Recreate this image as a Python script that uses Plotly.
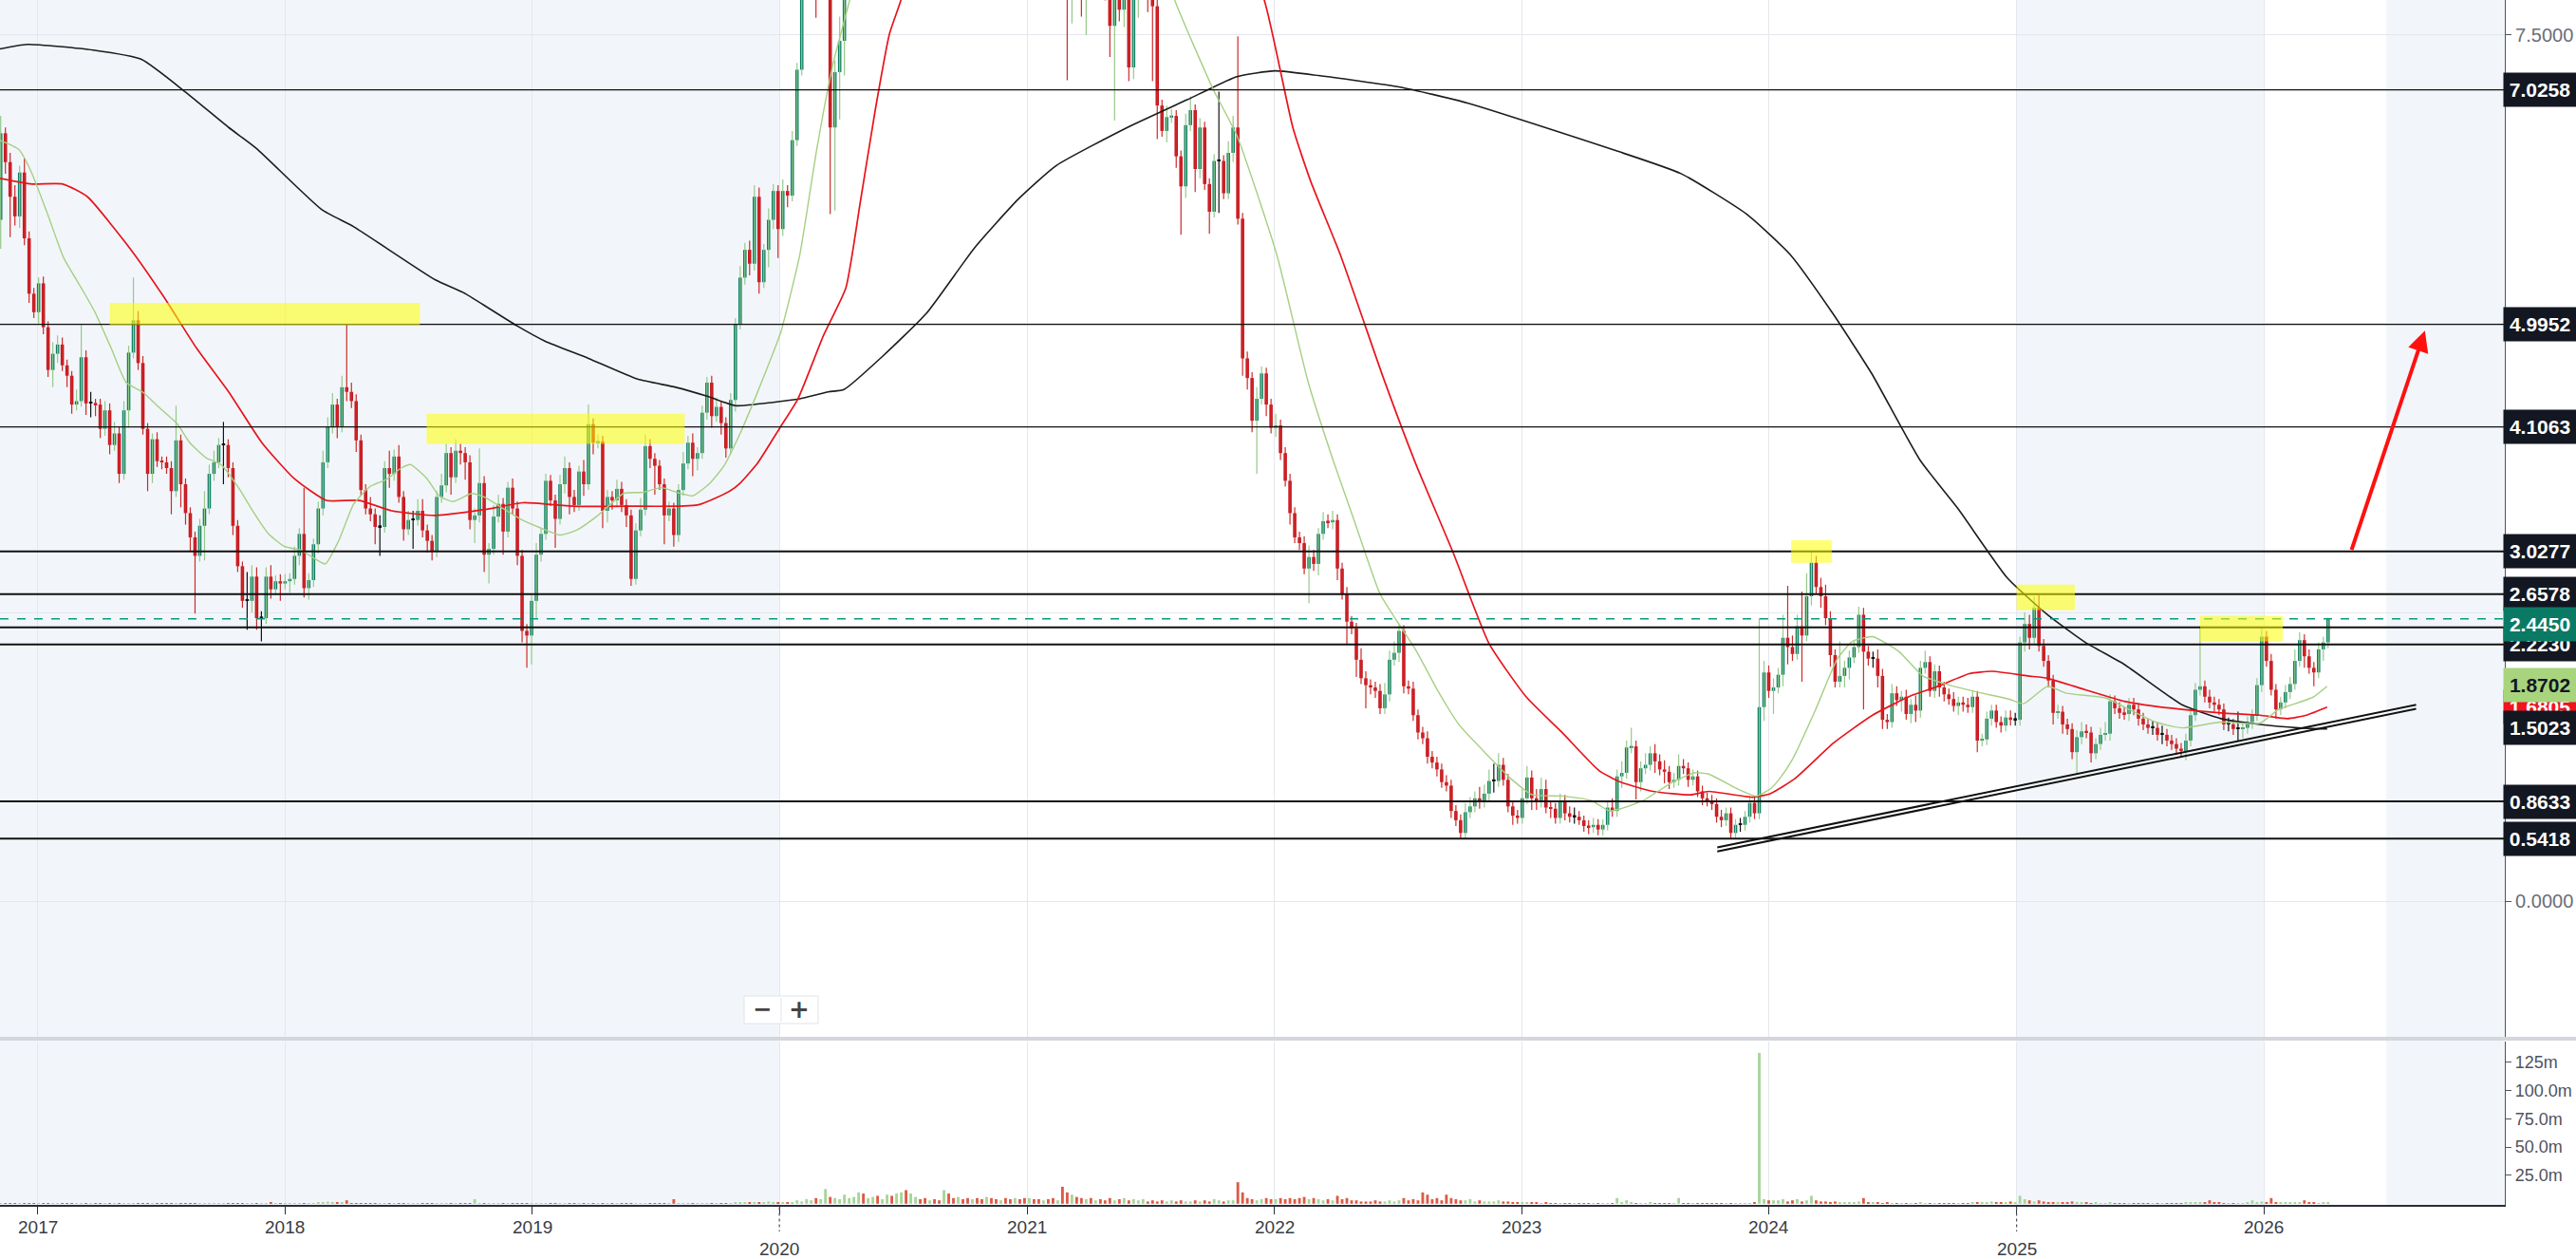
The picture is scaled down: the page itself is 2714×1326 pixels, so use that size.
import numpy as np
import pandas as pd
import plotly.graph_objects as go

# ---------------- data (weekly candles) ----------------
START = "2016-11-07"
first_open = 5.90

close = [
    6.65, 6.40, 6.10, 5.93, 6.31, 5.74, 5.26, 5.10, 5.35, 4.97,
    4.60, 4.74, 4.82, 4.64, 4.55, 4.30, 4.33, 4.71, 4.31, 4.31,
    4.30, 4.09, 4.25, 3.95, 4.05, 3.70, 4.25, 4.75, 5.03, 4.66,
    4.09, 3.70, 4.00, 3.81, 3.80, 3.75, 3.55, 3.99, 3.61, 3.36,
    3.15, 2.99, 3.25, 3.40, 3.70, 3.80, 3.95, 3.95, 3.75, 3.25,
    2.90, 2.60, 2.60, 2.81, 2.45, 2.45, 2.81, 2.70, 2.77, 2.75,
    2.77, 2.79, 2.99, 3.18, 2.71, 2.78, 3.09, 3.40, 3.80, 4.11,
    4.30, 4.11, 4.45, 4.41, 4.33, 3.99, 3.56, 3.40, 3.35, 3.24,
    3.24, 3.75, 3.70, 3.85, 3.50, 3.22, 3.30, 3.30, 3.38, 3.21,
    3.12, 3.03, 3.50, 3.60, 3.88, 3.67, 3.90, 3.88, 3.80, 3.30,
    3.34, 3.62, 3.00, 3.05, 3.33, 3.44, 3.20, 3.58, 3.40, 2.99,
    2.34, 2.30, 2.60, 3.00, 3.18, 3.64, 3.47, 3.31, 3.61, 3.75,
    3.50, 3.43, 3.72, 3.61, 4.13, 3.97, 3.98, 3.38, 3.50, 3.47,
    3.57, 3.43, 3.34, 2.79, 3.21, 3.39, 3.94, 3.83, 3.77, 3.61,
    3.34, 3.40, 3.17, 3.56, 3.79, 3.97, 3.83, 3.88, 4.23, 4.49,
    4.20, 4.28, 4.14, 3.92, 4.34, 5.00, 5.40, 5.64, 5.52, 6.10,
    5.36, 5.64, 5.90, 6.15, 5.82, 6.15, 6.11, 6.59, 7.20, 8.20,
    8.80, 9.40, 8.60, 9.20, 9.80, 6.70, 7.18, 7.45, 8.60, 9.10,
    9.50, 10.2, 9.80, 10.5, 11.2, 10.8, 11.5, 12.3, 11.8, 12.6,
    13.4, 12.9, 13.8, 14.5, 13.6, 12.8, 13.5, 12.4, 11.6, 12.2,
    11.3, 10.6, 11.4, 10.9, 10.2, 10.8, 10.1, 9.60, 10.3, 9.80,
    9.30, 9.90, 9.50, 9.00, 9.60, 9.20, 8.80, 9.30, 8.90, 8.60,
    9.10, 8.70, 8.50, 8.90, 8.60, 8.30, 8.50, 8.40, 8.20, 8.60,
    8.30, 8.60, 8.40, 8.10, 7.58, 7.90, 7.72, 7.95, 7.22, 7.85,
    8.10, 8.30, 8.00, 7.75, 6.89, 6.67, 6.79, 6.80, 6.45, 6.19,
    6.72, 6.85, 6.34, 6.70, 6.21, 5.97, 6.41, 6.41, 6.13, 6.48,
    6.70, 5.91, 4.70, 4.53, 4.16, 4.35, 4.57, 4.30, 4.10, 4.12,
    3.88, 3.64, 3.36, 3.15, 3.10, 2.88, 2.98, 2.92, 3.18, 3.29,
    3.28, 3.30, 2.88, 2.66, 2.42, 2.36, 2.09, 1.93, 1.87, 1.85,
    1.82, 1.67, 1.79, 2.09, 2.15, 2.34, 1.86, 1.84, 1.61, 1.46,
    1.41, 1.25, 1.20, 1.14, 1.03, 1.00, 0.78, 0.70, 0.59, 0.77,
    0.82, 0.89, 0.86, 0.93, 1.04, 1.04, 1.18, 1.05, 0.82, 0.74,
    0.72, 0.89, 1.07, 0.89, 0.87, 0.97, 0.81, 0.80, 0.72, 0.87,
    0.76, 0.73, 0.73, 0.70, 0.65, 0.64, 0.66, 0.62, 0.66, 0.81,
    0.78, 1.08, 1.11, 1.33, 1.34, 1.03, 1.15, 1.18, 1.28, 1.21,
    1.14, 1.12, 1.03, 1.05, 1.17, 1.15, 1.05, 1.08, 0.95, 0.89,
    0.87, 0.84, 0.73, 0.70, 0.76, 0.59, 0.66, 0.66, 0.73, 0.85,
    0.76, 1.68, 1.98, 1.82, 1.85, 1.96, 2.28, 2.20, 2.14, 2.38,
    2.30, 2.64, 2.93, 2.72, 2.64, 2.45, 2.13, 1.90, 1.95, 2.02,
    2.11, 2.20, 2.48, 2.16, 2.10, 2.10, 1.95, 1.57, 1.55, 1.80,
    1.74, 1.77, 1.62, 1.70, 1.65, 2.02, 2.07, 1.82, 1.99, 1.85,
    1.79, 1.75, 1.69, 1.72, 1.70, 1.68, 1.77, 1.39, 1.40, 1.58,
    1.65, 1.55, 1.52, 1.59, 1.57, 1.57, 2.24, 2.40, 2.28, 2.54,
    2.21, 2.08, 1.91, 1.63, 1.64, 1.53, 1.49, 1.29, 1.42, 1.47,
    1.46, 1.28, 1.36, 1.44, 1.45, 1.73, 1.67, 1.63, 1.62, 1.70,
    1.66, 1.58, 1.53, 1.50, 1.50, 1.44, 1.44, 1.39, 1.36, 1.32,
    1.30, 1.39, 1.61, 1.83, 1.86, 1.77, 1.72, 1.70, 1.66, 1.53,
    1.53, 1.49, 1.49, 1.50, 1.55, 1.61, 1.87, 2.29, 2.08, 1.83,
    1.66, 1.72, 1.81, 1.88, 2.08, 2.26, 2.12, 2.02, 1.98, 2.18,
    2.24, 2.445,
]

wick_up = [
    0.15, 0.05, 0.08, 0.10, 0.06, 0.12, 0.06, 0.05, 0.05, 0.06,
    0.05, 0.10, 0.08, 0.06, 0.05, 0.04, 0.10, 0.28, 0.06, 0.10,
    0.04, 0.05, 0.08, 0.06, 0.10, 0.06, 0.08, 0.06, 0.37, 0.08,
    0.06, 0.05, 0.05, 0.06, 0.04, 0.05, 0.06, 0.30, 0.05, 0.05,
    0.05, 0.05, 0.06, 0.15, 0.08, 0.10, 0.06, 0.20, 0.05, 0.05,
    0.05, 0.04, 0.25, 0.10, 0.08, 0.06, 0.08, 0.10, 0.05, 0.06,
    0.06, 0.05, 0.08, 0.05, 0.40, 0.06, 0.05, 0.06, 0.10, 0.08,
    0.10, 0.05, 0.10, 0.54, 0.08, 0.06, 0.05, 0.05, 0.10, 0.05,
    0.10, 0.06, 0.15, 0.06, 0.10, 0.05, 0.08, 0.08, 0.10, 0.10,
    0.05, 0.05, 0.05, 0.10, 0.08, 0.05, 0.10, 0.06, 0.05, 0.06,
    0.06, 0.30, 0.06, 0.05, 0.10, 0.08, 0.05, 0.05, 0.08, 0.06,
    0.05, 0.06, 0.05, 0.10, 0.05, 0.06, 0.05, 0.05, 0.08, 0.10,
    0.05, 0.06, 0.05, 0.10, 0.17, 0.05, 0.06, 0.05, 0.06, 0.05,
    0.08, 0.06, 0.05, 0.05, 0.06, 0.10, 0.10, 0.06, 0.05, 0.05,
    0.05, 0.06, 0.05, 0.05, 0.10, 0.06, 0.08, 0.05, 0.06, 0.05,
    0.06, 0.08, 0.05, 0.05, 0.06, 0.05, 0.10, 0.06, 0.08, 0.10,
    0.08, 0.05, 0.10, 0.06, 0.05, 0.10, 0.05, 0.08, 0.06, 0.10,
    0.30, 0.30, 0.30, 0.30, 0.30, 0.10, 0.10, 0.21, 0.30, 0.30,
    0.30, 0.30, 0.30, 0.30, 0.30, 0.30, 0.30, 0.30, 0.30, 0.30,
    0.30, 0.30, 0.30, 0.30, 0.30, 0.30, 0.30, 0.30, 0.30, 0.30,
    0.30, 0.30, 0.30, 0.30, 0.30, 0.30, 0.30, 0.30, 0.30, 0.30,
    0.30, 0.30, 0.30, 0.30, 0.30, 0.30, 0.30, 0.30, 0.30, 0.30,
    0.30, 0.30, 0.30, 0.30, 0.30, 0.30, 0.30, 0.30, 0.30, 0.30,
    0.30, 0.30, 0.30, 0.30, 0.30, 0.30, 0.30, 0.20, 0.30, 0.30,
    0.30, 0.30, 0.30, 0.30, 0.06, 0.05, 0.10, 0.06, 0.05, 0.05,
    0.10, 0.12, 0.05, 0.08, 0.05, 0.05, 0.06, 0.60, 0.05, 0.10,
    0.10, 0.79, 0.05, 0.06, 0.05, 0.10, 0.06, 0.05, 0.05, 0.10,
    0.05, 0.05, 0.06, 0.05, 0.05, 0.06, 0.10, 0.06, 0.05, 0.08,
    0.06, 0.08, 0.05, 0.05, 0.06, 0.05, 0.05, 0.10, 0.06, 0.05,
    0.05, 0.06, 0.10, 0.08, 0.10, 0.05, 0.05, 0.05, 0.06, 0.05,
    0.05, 0.06, 0.05, 0.05, 0.05, 0.06, 0.05, 0.05, 0.05, 0.08,
    0.08, 0.06, 0.10, 0.08, 0.10, 0.15, 0.10, 0.06, 0.05, 0.05,
    0.05, 0.08, 0.10, 0.06, 0.08, 0.10, 0.08, 0.05, 0.05, 0.06,
    0.05, 0.06, 0.08, 0.05, 0.04, 0.05, 0.06, 0.05, 0.05, 0.06,
    0.08, 0.06, 0.10, 0.06, 0.16, 0.05, 0.06, 0.10, 0.06, 0.08,
    0.06, 0.08, 0.05, 0.06, 0.10, 0.06, 0.05, 0.06, 0.05, 0.05,
    0.05, 0.05, 0.05, 0.06, 0.05, 0.05, 0.05, 0.06, 0.05, 0.06,
    0.05, 0.77, 0.10, 0.06, 0.08, 0.06, 0.20, 0.45, 0.10, 0.10,
    0.30, 0.20, 0.10, 0.06, 0.08, 0.10, 0.06, 0.05, 0.30, 0.06,
    0.06, 0.05, 0.07, 0.06, 0.05, 0.06, 0.08, 0.06, 0.05, 0.08,
    0.06, 0.05, 0.06, 0.05, 0.08, 0.06, 0.10, 0.05, 0.06, 0.05,
    0.05, 0.05, 0.06, 0.05, 0.05, 0.06, 0.05, 0.05, 0.05, 0.06,
    0.05, 0.05, 0.05, 0.06, 0.06, 0.06, 0.05, 0.10, 0.08, 0.10,
    0.11, 0.06, 0.05, 0.05, 0.06, 0.05, 0.05, 0.05, 0.06, 0.08,
    0.06, 0.05, 0.05, 0.06, 0.10, 0.06, 0.05, 0.05, 0.05, 0.06,
    0.06, 0.05, 0.05, 0.05, 0.06, 0.05, 0.08, 0.05, 0.05, 0.05,
    0.05, 0.06, 0.05, 0.06, 0.52, 0.05, 0.06, 0.05, 0.05, 0.05,
    0.06, 0.05, 0.15, 0.05, 0.05, 0.05, 0.06, 0.07, 0.05, 0.06,
    0.05, 0.05, 0.06, 0.06, 0.10, 0.07, 0.05, 0.06, 0.05, 0.06,
    0.05, 0.01,
]

wick_dn = [
    0.25, 0.10, 0.35, 0.08, 0.10, 0.06, 0.08, 0.05, 0.10, 0.06,
    0.06, 0.15, 0.08, 0.05, 0.10, 0.08, 0.05, 0.05, 0.10, 0.12,
    0.10, 0.08, 0.06, 0.08, 0.05, 0.08, 0.05, 0.15, 0.05, 0.06,
    0.05, 0.15, 0.08, 0.05, 0.06, 0.05, 0.20, 0.05, 0.20, 0.10,
    0.12, 0.50, 0.05, 0.30, 0.05, 0.06, 0.05, 0.34, 0.08, 0.08,
    0.05, 0.06, 0.25, 0.10, 0.10, 0.20, 0.05, 0.08, 0.05, 0.15,
    0.05, 0.10, 0.05, 0.08, 0.08, 0.10, 0.06, 0.08, 0.06, 0.05,
    0.06, 0.10, 0.05, 0.08, 0.06, 0.10, 0.05, 0.05, 0.06, 0.15,
    0.25, 0.05, 0.12, 0.06, 0.05, 0.10, 0.05, 0.25, 0.05, 0.06,
    0.10, 0.08, 0.05, 0.05, 0.06, 0.15, 0.05, 0.10, 0.15, 0.08,
    0.20, 0.06, 0.15, 0.25, 0.05, 0.05, 0.20, 0.05, 0.05, 0.08,
    0.10, 0.28, 0.25, 0.15, 0.06, 0.05, 0.05, 0.25, 0.05, 0.08,
    0.15, 0.06, 0.05, 0.10, 0.05, 0.10, 0.05, 0.15, 0.10, 0.08,
    0.06, 0.06, 0.10, 0.06, 0.05, 0.05, 0.05, 0.08, 0.25, 0.05,
    0.25, 0.05, 0.10, 0.06, 0.05, 0.05, 0.15, 0.10, 0.05, 0.06,
    0.10, 0.05, 0.10, 0.08, 0.05, 0.10, 0.05, 0.06, 0.10, 0.06,
    0.10, 0.05, 0.15, 0.08, 0.25, 0.06, 0.10, 0.05, 0.05, 0.05,
    0.30, 0.30, 0.95, 0.30, 0.30, 0.75, 0.72, 0.41, 0.30, 0.30,
    0.30, 0.30, 0.30, 0.30, 0.30, 0.30, 0.30, 0.30, 0.30, 0.30,
    0.30, 0.30, 0.30, 0.30, 0.30, 0.30, 0.30, 0.30, 0.30, 0.30,
    0.30, 0.30, 0.30, 0.30, 0.30, 0.30, 0.30, 0.30, 0.30, 0.30,
    0.30, 0.30, 0.30, 0.30, 0.30, 0.30, 0.30, 0.30, 0.30, 0.30,
    0.30, 0.30, 0.30, 0.30, 0.30, 1.19, 0.70, 0.30, 0.54, 0.70,
    0.30, 0.30, 0.30, 0.30, 0.27, 0.82, 0.10, 0.15, 0.12, 0.10,
    0.20, 0.20, 0.30, 0.65, 0.29, 0.05, 0.10, 0.05, 0.10, 0.42,
    0.10, 0.05, 0.20, 0.08, 0.05, 0.19, 0.05, 0.45, 0.05, 0.05,
    0.08, 0.05, 0.15, 0.10, 0.10, 0.46, 0.05, 0.10, 0.05, 0.08,
    0.06, 0.05, 0.10, 0.05, 0.06, 0.05, 0.30, 0.06, 0.10, 0.05,
    0.05, 0.06, 0.10, 0.05, 0.20, 0.05, 0.15, 0.05, 0.20, 0.06,
    0.06, 0.05, 0.05, 0.06, 0.05, 0.08, 0.06, 0.05, 0.05, 0.06,
    0.05, 0.06, 0.05, 0.06, 0.05, 0.05, 0.06, 0.05, 0.05, 0.05,
    0.05, 0.05, 0.06, 0.05, 0.06, 0.10, 0.05, 0.05, 0.05, 0.08,
    0.05, 0.05, 0.05, 0.10, 0.08, 0.06, 0.05, 0.08, 0.05, 0.05,
    0.06, 0.05, 0.06, 0.04, 0.05, 0.06, 0.05, 0.05, 0.05, 0.05,
    0.05, 0.05, 0.10, 0.05, 0.05, 0.15, 0.08, 0.05, 0.05, 0.10,
    0.05, 0.10, 0.06, 0.05, 0.05, 0.05, 0.06, 0.05, 0.05, 0.06,
    0.05, 0.05, 0.05, 0.06, 0.05, 0.05, 0.05, 0.06, 0.05, 0.05,
    0.05, 0.05, 0.12, 0.06, 0.20, 0.05, 0.10, 0.15, 0.06, 0.05,
    0.40, 0.05, 0.08, 0.06, 0.10, 0.06, 0.10, 0.05, 0.05, 0.10,
    0.10, 0.05, 0.05, 0.50, 0.06, 0.08, 0.10, 0.08, 0.06, 0.05,
    0.05, 0.10, 0.05, 0.08, 0.10, 0.06, 0.05, 0.05, 0.06, 0.08,
    0.06, 0.05, 0.05, 0.08, 0.06, 0.05, 0.05, 0.10, 0.05, 0.05,
    0.06, 0.05, 0.06, 0.05, 0.05, 0.05, 0.05, 0.08, 0.10, 0.06,
    0.05, 0.05, 0.06, 0.10, 0.05, 0.08, 0.05, 0.06, 0.18, 0.06,
    0.05, 0.08, 0.05, 0.05, 0.05, 0.06, 0.05, 0.05, 0.05, 0.06,
    0.05, 0.06, 0.05, 0.05, 0.06, 0.05, 0.08, 0.05, 0.05, 0.05,
    0.05, 0.08, 0.05, 0.05, 0.05, 0.05, 0.05, 0.06, 0.05, 0.05,
    0.06, 0.05, 0.10, 0.08, 0.05, 0.06, 0.05, 0.06, 0.05, 0.05,
    0.08, 0.05, 0.05, 0.06, 0.05, 0.05, 0.10, 0.05, 0.12, 0.05,
    0.10, 0.05,
]

volume_m = [
    0.3, 0.2, 0.3, 0.2, 0.4, 0.3, 0.2, 0.3, 0.2, 0.3,
    0.2, 0.3, 0.2, 0.2, 0.3, 0.2, 0.4, 0.3, 0.2, 0.3,
    0.2, 0.3, 0.2, 0.3, 0.2, 0.2, 0.3, 0.5, 0.4, 0.3,
    0.2, 0.3, 0.2, 0.2, 0.3, 0.2, 0.2, 0.3, 0.2, 0.2,
    0.3, 0.2, 0.2, 0.3, 0.2, 0.3, 0.2, 0.2, 0.3, 0.2,
    0.3, 0.4, 0.3, 0.5, 0.4, 0.6, 0.5, 1.5, 0.6, 0.5,
    0.4, 0.5, 0.6, 0.5, 0.4, 0.5, 0.6, 0.8, 1.5, 1.8,
    1.5, 1.2, 0.8, 3.0, 0.6, 0.5, 0.4, 0.5, 0.4, 0.3,
    0.4, 0.3, 0.4, 0.3, 0.4, 0.3, 0.3, 0.4, 0.3, 0.3,
    0.4, 0.3, 0.3, 0.5, 0.4, 0.3, 0.3, 0.4, 0.3, 0.3,
    4.0, 0.4, 0.3, 0.4, 0.3, 0.3, 0.4, 0.3, 0.3, 0.3,
    0.5, 0.4, 0.3, 0.4, 0.3, 0.3, 0.3, 0.4, 0.3, 0.3,
    0.3, 0.4, 0.3, 0.3, 0.5, 0.3, 0.3, 0.4, 0.3, 0.3,
    0.3, 0.3, 0.3, 0.5, 0.4, 0.3, 0.4, 0.3, 0.3, 0.3,
    0.3, 0.3, 4.0, 0.4, 0.3, 0.3, 0.4, 0.3, 0.5, 0.6,
    0.5, 0.4, 0.4, 0.5, 0.6, 0.8, 0.9, 0.8, 0.7, 1.0,
    0.8, 0.9, 2.0, 1.0, 1.2, 1.0, 1.5, 1.3, 3.0, 2.0,
    4.0, 3.0, 5.0, 4.0, 13.0, 6.0, 5.0, 4.0, 8.0, 5.0,
    6.0, 10.0, 9.0, 5.0, 6.0, 7.0, 4.0, 8.0, 7.0, 9.0,
    10.0, 12.0, 9.0, 6.0, 4.0, 5.0, 3.0, 4.0, 3.0, 12.0,
    9.0, 5.0, 6.0, 4.0, 5.0, 4.0, 5.0, 4.0, 6.0, 5.0,
    4.0, 3.0, 5.0, 4.0, 5.0, 4.0, 5.0, 5.0, 4.0, 4.0,
    3.0, 4.0, 5.0, 3.0, 15.0, 10.0, 8.0, 6.0, 5.0, 4.0,
    5.0, 3.0, 4.0, 3.0, 5.0, 3.0, 4.0, 5.0, 3.0, 4.0,
    3.0, 4.0, 2.0, 3.0, 2.0, 3.0, 2.0, 3.0, 2.0, 3.0,
    2.0, 2.0, 3.0, 2.0, 3.0, 2.0, 4.0, 3.0, 2.0, 3.0,
    3.0, 19.0, 10.0, 5.0, 4.0, 3.0, 4.0, 5.0, 4.0, 4.0,
    5.0, 4.0, 5.0, 4.0, 5.0, 6.0, 4.0, 5.0, 4.0, 3.0,
    4.0, 3.0, 7.0, 4.0, 5.0, 3.0, 3.0, 2.0, 2.0, 2.0,
    3.0, 2.0, 2.0, 3.0, 2.0, 3.0, 5.0, 3.0, 4.0, 3.0,
    10.0, 8.0, 4.0, 5.0, 3.0, 8.0, 5.0, 4.0, 3.0, 3.0,
    4.0, 2.0, 3.0, 2.0, 2.0, 2.0, 3.0, 2.0, 2.0, 1.5,
    1.5, 1.0, 0.8, 1.0, 0.7, 0.6, 0.8, 0.6, 0.5, 0.6,
    0.5, 0.6, 0.5, 0.4, 0.5, 0.6, 0.5, 0.4, 0.5, 0.6,
    0.5, 5.0, 0.8, 3.0, 0.8, 0.6, 0.5, 0.6, 0.7, 0.5,
    0.6, 0.5, 0.5, 0.6, 5.0, 0.6, 0.5, 0.4, 0.5, 0.6,
    0.5, 0.6, 0.5, 0.4, 0.5, 0.6, 0.5, 0.4, 0.5, 0.6,
    0.8, 133.0, 4.0, 3.0, 3.0, 3.0, 4.0, 2.0, 3.0, 4.0,
    2.0, 3.0, 7.0, 3.0, 2.0, 2.0, 1.5, 2.0, 1.5, 1.0,
    1.5, 1.0, 2.0, 5.0, 1.0, 0.8, 0.7, 0.6, 0.8, 0.6,
    0.5, 0.6, 0.5, 0.6, 0.5, 0.7, 0.6, 0.5, 0.6, 0.5,
    0.6, 0.5, 0.5, 0.6, 0.5, 0.6, 0.8, 0.7, 0.8, 1.0,
    2.0, 1.0, 1.5, 1.0, 2.0, 1.2, 7.0, 4.0, 3.0, 2.0,
    3.0, 2.0, 1.0, 1.2, 1.0, 1.5, 1.0, 2.0, 1.5, 1.0,
    0.8, 0.6, 0.7, 0.6, 0.5, 0.8, 0.6, 0.5, 0.6, 0.5,
    0.6, 0.5, 0.6, 0.5, 0.6, 0.5, 0.6, 0.5, 0.6, 0.5,
    0.6, 0.7, 1.0, 1.5, 1.2, 1.0, 3.0, 1.0, 0.8, 0.6,
    0.6, 0.5, 0.6, 0.5, 0.8, 3.0, 1.5, 2.0, 1.0, 5.0,
    1.0, 0.8, 1.0, 0.8, 1.0, 1.5, 3.0, 1.0, 0.8, 0.6,
    0.8, 1.0,
]

# moving averages (position in weeks from START, value)
ma_fast_w = [-0.2, 3.8, 6.4, 9.9, 13.3, 17.3, 19.9, 23.3, 26.5, 29.9,
             33.3, 37.3, 39.9, 43.3, 46.5, 50.5, 53.3, 56.5, 59.9, 63.3,
             66.5, 68.5, 71.3, 74.5, 77.9, 81.3, 84.5, 86.5, 89.9, 92.5,
             95.4, 99.4, 102.0, 106.0, 110.0, 114.0, 118.0, 121.4, 126.0, 131.4,
             135.4, 139.4, 142.6, 146.0, 149.4, 152.6, 156.0, 159.4, 162.6, 164.6,
             168.6, 172.2, 175.6, 179.1, 200.0, 225.0, 247.7, 255.8, 260.8, 269.2,
             275.8, 281.0, 285.6, 291.0, 295.6, 298.6, 303.2, 307.8, 314.0, 318.6,
             323.2, 329.4, 335.6, 339.4, 341.8, 346.5, 352.7, 357.3, 360.3, 366.5,
             370.3, 373.3, 375.3, 377.9, 382.7, 387.5, 390.7, 394.9, 400.5, 405.5,
             410.3, 417.0, 423.6, 426.8, 431.8, 435.8, 444.0, 448.0, 454.6, 460.2,
             468.4, 476.6, 480.6, 484.8, 488.0, 490.8]
ma_fast_v = [6.59, 6.51, 6.32, 5.95, 5.57, 5.29, 5.10, 4.79, 4.49, 4.41,
             4.28, 4.13, 3.97, 3.84, 3.78, 3.56, 3.37, 3.18, 3.07, 3.04,
             2.96, 2.92, 3.12, 3.44, 3.59, 3.65, 3.75, 3.78, 3.66, 3.51,
             3.46, 3.53, 3.50, 3.40, 3.30, 3.23, 3.17, 3.21, 3.34, 3.53,
             3.54, 3.58, 3.54, 3.51, 3.61, 3.77, 4.05, 4.38, 4.71, 4.93,
             5.60, 6.52, 7.25, 7.80, 11.0, 10.5, 7.80, 7.03, 6.63, 5.60,
             4.50, 3.83, 3.29, 2.66, 2.36, 2.17, 1.82, 1.52, 1.25, 1.06,
             0.92, 0.91, 0.87, 0.78, 0.80, 0.87, 1.03, 1.11, 1.10, 0.97,
             0.91, 0.97, 1.06, 1.22, 1.64, 2.10, 2.25, 2.29, 2.16, 1.95,
             1.88, 1.81, 1.75, 1.71, 1.86, 1.80, 1.76, 1.68, 1.55, 1.50,
             1.55, 1.54, 1.66, 1.72, 1.77, 1.86]

ma_mid_w = [-0.2, 6.6, 13.1, 18.3, 27.5, 34.3, 41.3, 48.1, 55.1, 61.9,
            68.7, 75.7, 82.5, 91.7, 103.4, 110.2, 120.6, 132.0, 147.0, 153.8,
            156.0, 159.8, 164.4, 168.2, 173.6, 178.3, 181.3, 184.5, 187.5, 189.9,
            205.0, 235.0, 255.0, 266.6, 272.6, 276.4, 282.6, 291.8, 298.6, 306.4,
            314.0, 321.8, 329.4, 337.2, 341.8, 348.6, 356.5, 360.3, 369.5, 373.3,
            378.5, 386.7, 394.9, 403.1, 408.7, 415.3, 420.1, 427.6, 431.8, 439.8,
            448.0, 452.2, 460.2, 468.4, 476.6, 482.4, 486.4, 490.8]
ma_mid_v = [6.26, 6.21, 6.21, 6.10, 5.64, 5.24, 4.79, 4.41, 3.97, 3.66,
            3.47, 3.47, 3.38, 3.34, 3.40, 3.45, 3.42, 3.42, 3.43, 3.55,
            3.62, 3.80, 4.10, 4.35, 4.90, 5.31, 6.04, 6.85, 7.51, 7.80,
            10.0, 10.5, 9.0, 7.80, 6.70, 6.23, 5.60, 4.52, 3.78, 3.02,
            2.23, 1.77, 1.46, 1.13, 1.03, 0.95, 0.92, 0.95, 0.90, 0.93,
            1.06, 1.37, 1.61, 1.78, 1.86, 1.97, 1.99, 1.95, 1.93, 1.83,
            1.73, 1.70, 1.66, 1.63, 1.61, 1.58, 1.61, 1.68]

ma_slow_w = [-0.2, 5.6, 19.5, 29.7, 38.9, 48.1, 53.9, 67.7, 74.5, 91.7,
             97.6, 109.0, 114.8, 124.0, 134.4, 142.4, 149.2, 155.0, 163.0, 168.6,
             174.6, 177.9, 186.1, 195.3, 205.5, 214.7, 222.7, 237.7, 250.3, 260.8,
             268.8, 278.0, 295.2, 309.6, 340.7, 354.5, 368.3, 377.5, 386.5, 394.7,
             404.9, 412.9, 423.3, 431.8, 439.8, 448.0, 460.2, 468.4, 476.6, 484.8,
             490.8]
ma_slow_v = [7.38, 7.42, 7.37, 7.29, 7.01, 6.70, 6.52, 5.99, 5.84, 5.38,
             5.27, 4.98, 4.85, 4.70, 4.52, 4.45, 4.37, 4.29, 4.32, 4.35,
             4.41, 4.43, 4.72, 5.09, 5.66, 6.08, 6.37, 6.70, 6.94, 7.14,
             7.19, 7.15, 7.05, 6.91, 6.50, 6.30, 5.95, 5.60, 5.09, 4.57,
             3.82, 3.40, 2.80, 2.48, 2.24, 2.05, 1.70, 1.58, 1.53, 1.50,
             1.49]

levels_thin = [7.0258, 4.9952, 4.1063]
levels_thick = [3.0277, 2.6578, 2.3710, 2.2230, 0.8633, 0.5418]
last_price = 2.4450
label_black = ["7.0258", "4.9952", "4.1063", "3.0277", "2.6578", "0.8633", "0.5418"]
ma_labels = {"fast": "1.8702", "mid": "1.6805", "slow": "1.5023"}
hidden_label = "2.2230"

# trendline (two parallel rails), arrow and highlight boxes
trend_x = ["2023-10-17", "2026-08-14"]
trend_lo = [0.430, 1.665]
trend_hi = [0.465, 1.700]
arrow_tail = ("2026-05-10", 3.03)
arrow_head = ("2026-08-27", 4.94)
highlights = [
    ("2017-04-17", "2018-07-19", 4.99, 5.18),
    ("2018-07-29", "2019-08-14", 3.96, 4.22),
    ("2024-02-03", "2024-04-03", 2.93, 3.125),
    ("2025-01-01", "2025-03-28", 2.52, 2.74),
    ("2025-09-29", "2026-01-29", 2.25, 2.47),
]
shaded = [("2016-10-01", "2020-01-01"), ("2025-01-01", "2026-01-01"), ("2026-07-01", "2027-03-01")]
years = list(range(2017, 2027))
second_row_years = [2020, 2025]

# ---------------- derived ----------------
n = len(close)
assert len(wick_up) == n and len(wick_dn) == n and len(volume_m) == n, (n, len(wick_up), len(wick_dn), len(volume_m))
start = pd.Timestamp(START)
dates = [start + pd.Timedelta(days=7 * i) for i in range(n)]
opens = [first_open] + close[:-1]
highs = [max(o, c) + u for o, c, u in zip(opens, close, wick_up)]
lows = [min(o, c) - d for o, c, d in zip(opens, close, wick_dn)]

UP_BODY, DN_BODY, DOJI = "#0a7d64", "#c8161e", "#111111"
UP_WICK, DN_WICK = "#95c98a", "#cc2a2a"
UP_VOL, DN_VOL = "#a6d59a", "#dd5a45"

FONT = "Liberation Sans, Arial, sans-serif"

def to_dates(ws):
    return [start + pd.Timedelta(days=7 * w) for w in ws]

fig = go.Figure()

# wicks
groups = {"up": ([], [], UP_WICK), "dn": ([], [], DN_WICK), "doji": ([], [], DOJI)}
body_col, vol_col, body_h, body_b = [], [], [], []
for d, o, c, h, l in zip(dates, opens, close, highs, lows):
    if abs(c - o) < 1e-9:
        k = "doji"
    elif c > o:
        k = "up"
    else:
        k = "dn"
    gx, gy, _ = groups[k]
    gx += [d, d, None]
    gy += [l, h, None]
    body_col.append({"up": UP_BODY, "dn": DN_BODY, "doji": DOJI}[k])
    vol_col.append(UP_VOL if c >= o else DN_VOL)
    body_b.append(min(o, c))
    body_h.append(max(abs(c - o), 0.014))

for k, (gx, gy, col) in groups.items():
    fig.add_trace(go.Scatter(x=gx, y=gy, mode="lines", line=dict(color=col, width=1.2),
                             hoverinfo="skip", xaxis="x", yaxis="y"))

DAY_MS = 86400000
fig.add_trace(go.Bar(x=dates, y=body_h, base=body_b, width=5 * DAY_MS,
                     marker=dict(color=body_col, line=dict(width=0)),
                     hoverinfo="skip", xaxis="x", yaxis="y"))

# moving averages
fig.add_trace(go.Scatter(x=to_dates(ma_slow_w), y=ma_slow_v, mode="lines",
                         line=dict(color="#1c1c1c", width=1.6, shape="spline", smoothing=0.5),
                         hoverinfo="skip", xaxis="x", yaxis="y"))
fig.add_trace(go.Scatter(x=to_dates(ma_mid_w), y=ma_mid_v, mode="lines",
                         line=dict(color="#e8141c", width=1.7, shape="spline", smoothing=0.5),
                         hoverinfo="skip", xaxis="x", yaxis="y"))
fig.add_trace(go.Scatter(x=to_dates(ma_fast_w), y=ma_fast_v, mode="lines",
                         line=dict(color="#a6cf82", width=1.4, shape="spline", smoothing=0.5),
                         hoverinfo="skip", xaxis="x", yaxis="y"))

# volume
fig.add_trace(go.Bar(x=dates, y=volume_m, width=4 * DAY_MS,
                     marker=dict(color=vol_col, line=dict(width=0)),
                     hoverinfo="skip", xaxis="x2", yaxis="y2"))

# ---------------- layout ----------------
W, H = 2714, 1326
ML, MR, MT, MB = 0, 75, 0, 57
plot_h = H - MT - MB
main_bottom = (plot_h - 1093) / plot_h
vol_top = (plot_h - 1097) / plot_h

x_range = ["2016-11-06", "2026-12-23"]
year_ticks = [f"{y}-01-01" for y in years]
GRID = "#e4e7ed"

fig.update_layout(
    width=W, height=H,
    margin=dict(l=ML, r=MR, t=MT, b=MB, autoexpand=False),
    paper_bgcolor="white", plot_bgcolor="white",
    showlegend=False, barmode="overlay", hovermode=False,
    xaxis=dict(domain=[0, 1], anchor="y", type="date", range=x_range,
               tickvals=year_ticks, showticklabels=False, ticks="",
               showgrid=True, gridcolor=GRID, gridwidth=1, zeroline=False, showline=False),
    yaxis=dict(domain=[main_bottom, 1], anchor="x", side="right", range=[-1.184, 7.804],
               tickvals=[0, 2.5, 5, 7.5], ticktext=["0.0000", "", "", "7.5000"],
               ticks="outside", ticklen=6, tickcolor="#50535e", tickwidth=1,
               showgrid=True, gridcolor=GRID, gridwidth=1, zeroline=False,
               showline=True, linecolor="#50535e", linewidth=1.2,
               tickfont=dict(family=FONT, size=20, color="#6a6d78")),
    xaxis2=dict(domain=[0, 1], anchor="y2", type="date", range=x_range, matches="x",
                tickvals=year_ticks, showticklabels=False, ticks="outside", ticklen=8,
                tickcolor="#2a2e39", tickwidth=1.2,
                showgrid=True, gridcolor=GRID, gridwidth=1, zeroline=False,
                showline=True, linecolor="#2a2e39", linewidth=2),
    yaxis2=dict(domain=[0, vol_top], anchor="x2", side="right", range=[-1, 143],
                tickvals=[25, 50, 75, 100, 125],
                ticktext=["25.0m", "50.0m", "75.0m", "100.0m", "125m"],
                ticks="outside", ticklen=6, tickcolor="#50535e", tickwidth=1,
                showgrid=False, zeroline=False,
                showline=True, linecolor="#50535e", linewidth=1.2,
                tickfont=dict(family=FONT, size=18, color="#50535e")),
)

shapes = []
for a, b in shaded:
    shapes.append(dict(type="rect", xref="x", yref="paper", x0=a, x1=b, y0=0, y1=1,
                       fillcolor="rgba(150,180,215,0.12)", line=dict(width=0), layer="below"))
for lv in levels_thin:
    shapes.append(dict(type="line", xref="paper", yref="y", x0=0, x1=1, y0=lv, y1=lv,
                       line=dict(color="#111111", width=1.2), layer="above"))
for lv in levels_thick:
    shapes.append(dict(type="line", xref="paper", yref="y", x0=0, x1=1, y0=lv, y1=lv,
                       line=dict(color="#111111", width=2), layer="above"))
shapes.append(dict(type="line", xref="paper", yref="y", x0=0, x1=1, y0=last_price, y1=last_price,
                   line=dict(color="#089981", width=1.6, dash="dash"), layer="above"))
for a, b, lo, hi in highlights:
    shapes.append(dict(type="rect", xref="x", yref="y", x0=a, x1=b, y0=lo, y1=hi,
                       fillcolor="rgba(255,255,0,0.55)", line=dict(width=0), layer="above"))
for ys in (trend_lo, trend_hi):
    shapes.append(dict(type="line", xref="x", yref="y", x0=trend_x[0], x1=trend_x[1],
                       y0=ys[0], y1=ys[1], line=dict(color="#111111", width=2), layer="above"))
# pane separator
shapes.append(dict(type="rect", xref="paper", yref="paper", x0=0, x1=1.03,
                   y0=(plot_h - 1096) / plot_h, y1=(plot_h - 1092) / plot_h,
                   fillcolor="#d3d6dd", line=dict(width=0), layer="above"))
# dotted long ticks for second-row years
for y in second_row_years:
    shapes.append(dict(type="line", xref="x", yref="paper", x0=f"{y}-01-01", x1=f"{y}-01-01",
                       y0=-0.002, y1=-0.022, line=dict(color="#50535e", width=1.2, dash="dot")))
# zoom buttons box
shapes.append(dict(type="rect", xref="paper", yref="paper", x0=784 / 2639, x1=862 / 2639,
                   y0=(plot_h - 1078) / plot_h, y1=(plot_h - 1049) / plot_h,
                   fillcolor="white", line=dict(color="#e0e3eb", width=1), layer="above"))
shapes.append(dict(type="line", xref="paper", yref="paper", x0=823 / 2639, x1=823 / 2639,
                   y0=(plot_h - 1076) / plot_h, y1=(plot_h - 1051) / plot_h,
                   line=dict(color="#e0e3eb", width=1), layer="above"))
fig.update_layout(shapes=shapes)

ann = []
for y in years:
    row2 = y in second_row_years
    ann.append(dict(xref="x", yref="paper", x=f"{y}-01-01", y=(plot_h - (1315 if row2 else 1292)) / plot_h,
                    text=str(y), showarrow=False, xanchor="center", yanchor="middle",
                    font=dict(family=FONT, size=19, color="#3a3d46")))

def price_label(val, text, bg, fg, yshift=0):
    return dict(xref="paper", yref="y", x=1, y=val, xanchor="left", yanchor="middle",
                xshift=-2, yshift=yshift, text=f"<b>{text}</b>", showarrow=False,
                bgcolor=bg, borderpad=3, width=70, height=29, align="center", valign="middle",
                font=dict(family=FONT, size=21, color=fg))

ann.append(price_label(float(hidden_label), hidden_label, "#131722", "white"))
ann.append(price_label(float(ma_labels["mid"]), ma_labels["mid"], "#f0141e", "white"))
for t in label_black:
    ann.append(price_label(float(t), t, "#131722", "white"))
ann.append(price_label(float(ma_labels["fast"]), ma_labels["fast"], "#a8d47e", "#131722"))
ann.append(price_label(float(ma_labels["slow"]), ma_labels["slow"], "#131722", "white"))
ann.append(price_label(last_price, f"{last_price:.4f}", "#0b7a65", "white", yshift=-6))

# red arrow
ann.append(dict(xref="x", yref="y", axref="x", ayref="y",
                x=arrow_head[0], y=arrow_head[1], ax=arrow_tail[0], ay=arrow_tail[1],
                text="", showarrow=True, arrowhead=2, arrowsize=1.1, arrowwidth=4,
                arrowcolor="#ff1010"))
# zoom buttons text
ann.append(dict(xref="paper", yref="paper", x=803 / 2639, y=(plot_h - 1063) / plot_h,
                xanchor="center", yanchor="middle",
                text="<b>\u2212</b>", showarrow=False, font=dict(family="DejaVu Sans", size=24, color="#444")))
ann.append(dict(xref="paper", yref="paper", x=842 / 2639, y=(plot_h - 1063) / plot_h,
                xanchor="center", yanchor="middle",
                text="<b>+</b>", showarrow=False, font=dict(family="DejaVu Sans", size=26, color="#444")))
fig.update_layout(annotations=ann)

fig.write_html("out.html", config={"displayModeBar": False},
               post_script="document.body.style.margin='0';document.body.style.overflow='hidden';")
